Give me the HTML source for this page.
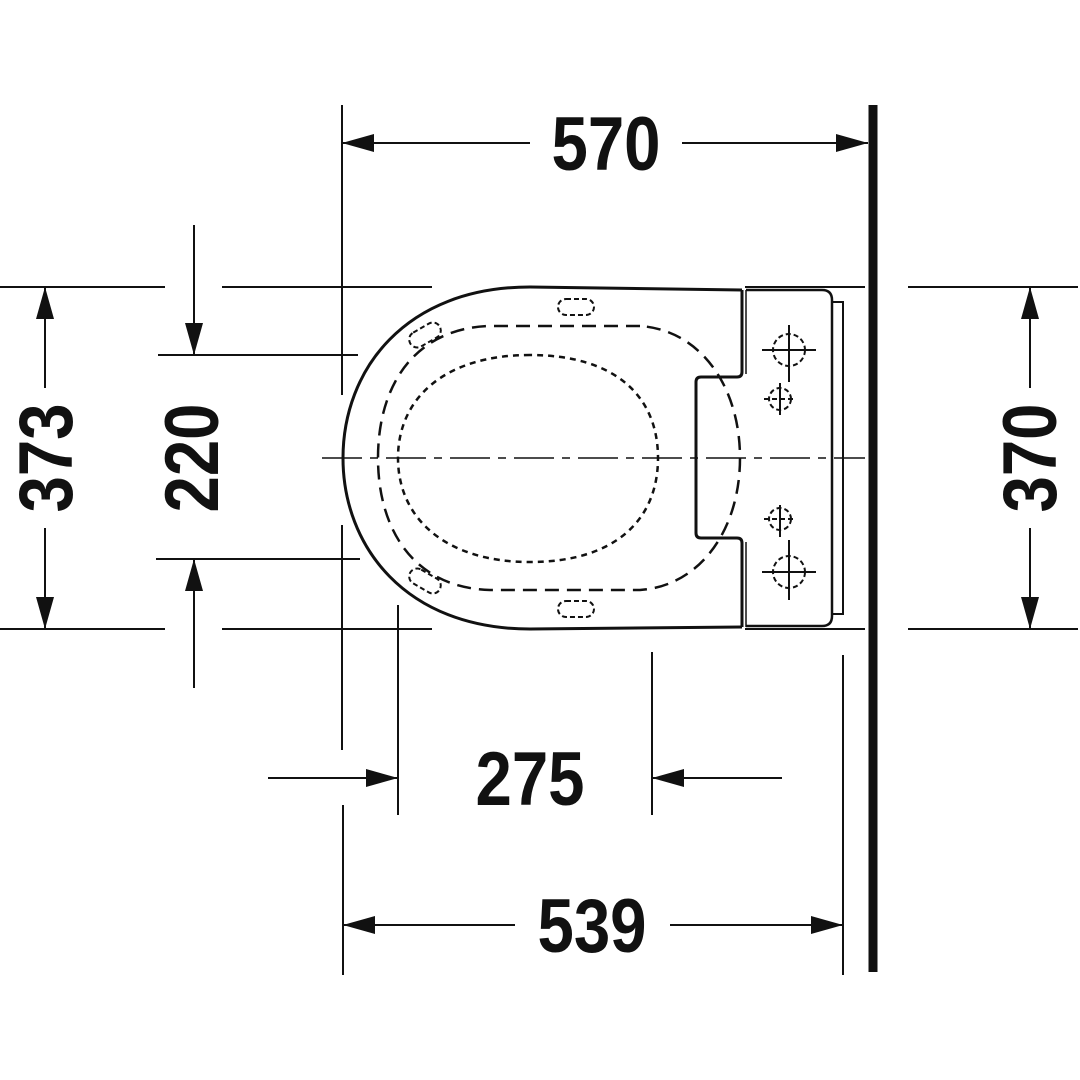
<!DOCTYPE html>
<html><head><meta charset="utf-8"><style>
html,body{margin:0;padding:0;background:#fff}
svg{display:block}
text{font-family:"Liberation Sans",sans-serif;font-weight:bold;font-size:76px;fill:#111}
</style></head><body>
<svg width="1080" height="1080" viewBox="0 0 1080 1080" xmlns="http://www.w3.org/2000/svg">
<defs>
<marker id="a" markerWidth="32" markerHeight="18" refX="32" refY="9" orient="auto" markerUnits="userSpaceOnUse">
<path d="M0,0 L32,9 L0,18 Z" fill="#111"/></marker>
</defs>
<g stroke="#111" stroke-width="2" fill="none">
<line x1="873" y1="105" x2="873" y2="972" stroke-width="9"/>
<line x1="342" y1="105" x2="342" y2="395"/>
<line x1="342" y1="525" x2="342" y2="750"/>
<line x1="343" y1="805" x2="343" y2="975"/>
<line x1="843" y1="655" x2="843" y2="975"/>
<line x1="398" y1="605" x2="398" y2="815"/>
<line x1="652" y1="652" x2="652" y2="815"/>
<line x1="0" y1="287" x2="165" y2="287"/>
<line x1="222" y1="287" x2="432" y2="287"/>
<line x1="0" y1="629" x2="165" y2="629"/>
<line x1="222" y1="629" x2="432" y2="629"/>
<line x1="158" y1="355" x2="358" y2="355"/>
<line x1="156" y1="559" x2="360" y2="559"/>
<line x1="908" y1="287" x2="1078" y2="287"/>
<line x1="908" y1="629" x2="1078" y2="629"/>
<line x1="745" y1="287" x2="865" y2="287"/>
<line x1="745" y1="629" x2="865" y2="629"/>
<line x1="530" y1="143" x2="342" y2="143" marker-end="url(#a)"/>
<line x1="682" y1="143" x2="868" y2="143" marker-end="url(#a)"/>
<line x1="45" y1="388" x2="45" y2="287" marker-end="url(#a)"/>
<line x1="45" y1="528" x2="45" y2="629" marker-end="url(#a)"/>
<line x1="1030" y1="388" x2="1030" y2="287" marker-end="url(#a)"/>
<line x1="1030" y1="528" x2="1030" y2="629" marker-end="url(#a)"/>
<line x1="194" y1="225" x2="194" y2="355" marker-end="url(#a)"/>
<line x1="194" y1="688" x2="194" y2="559" marker-end="url(#a)"/>
<line x1="268" y1="778" x2="398" y2="778" marker-end="url(#a)"/>
<line x1="782" y1="778" x2="652" y2="778" marker-end="url(#a)"/>
<line x1="515" y1="925" x2="343" y2="925" marker-end="url(#a)"/>
<line x1="670" y1="925" x2="843" y2="925" marker-end="url(#a)"/>
<line x1="322" y1="458" x2="865" y2="458" stroke-width="1.5" stroke-dasharray="40,8,8,8"/>
<path d="M742,290 L530,287 C405,287 343,370 343,458 C343,546 405,629 530,629 L742,627" stroke-width="3"/>
<path d="M742,290 L742,372 Q742,377 737,377 L701,377 Q696,377 696,382 L696,533 Q696,538 701,538 L737,538 Q742,538 742,543 L742,627" stroke-width="3"/>
<path d="M746,290 L746,374 M746,542 L746,627" stroke-width="1.5"/>
<path d="M746,290 L822,290 Q832,290 832,300 L832,616 Q832,626 822,626 L746,626" stroke-width="2.5"/>
<path d="M833,302 L843,302 L843,614 L833,614" stroke-width="2"/>
<path d="M640,326 L490,326 C415,328 378,385 378,458 C378,531 415,588 490,590 L640,590 C700,586 740,530 740,458 C740,386 700,330 640,326 Z" stroke-width="2.5" stroke-dasharray="14,8"/>
<path d="M530,355 C445,355 398,398 398,458 C398,518 445,562 530,562 C615,562 658,520 658,458 C658,396 615,355 530,355 Z" stroke-width="2.5" stroke-dasharray="6,5"/>
<g stroke-width="2" stroke-dasharray="5,3">
<rect x="558" y="299" width="36" height="16" rx="8"/>
<rect x="558" y="601" width="36" height="16" rx="8"/>
<rect x="408" y="327" width="34" height="16" rx="8" transform="rotate(-30 425 335)"/>
<rect x="408" y="573" width="34" height="16" rx="8" transform="rotate(30 425 581)"/>
<circle cx="789" cy="350" r="16"/>
<circle cx="789" cy="572" r="16"/>
<circle cx="780" cy="399" r="11"/>
<circle cx="780" cy="519" r="11"/>
</g>
<g stroke-width="2">
<line x1="762" y1="350" x2="816" y2="350"/><line x1="789" y1="325" x2="789" y2="382"/>
<line x1="762" y1="572" x2="816" y2="572"/><line x1="789" y1="540" x2="789" y2="600"/>
<line x1="780" y1="383" x2="780" y2="415"/><line x1="780" y1="505" x2="780" y2="537"/>
<line x1="764" y1="399" x2="796" y2="399" stroke-dasharray="5,3"/><line x1="764" y1="519" x2="796" y2="519" stroke-dasharray="5,3"/>
</g>
</g>
<g>
<text x="606" y="170" text-anchor="middle" transform="translate(606 0) scale(0.86 1) translate(-606 0)">570</text>
<text x="530" y="805" text-anchor="middle" transform="translate(530 0) scale(0.86 1) translate(-530 0)">275</text>
<text x="592" y="952" text-anchor="middle" transform="translate(592 0) scale(0.86 1) translate(-592 0)">539</text>
<text transform="translate(72 458) rotate(-90) scale(0.86 1)" text-anchor="middle">373</text>
<text transform="translate(218 458) rotate(-90) scale(0.86 1)" text-anchor="middle">220</text>
<text transform="translate(1056 458) rotate(-90) scale(0.86 1)" text-anchor="middle">370</text>
</g>
</svg>
</body></html>
